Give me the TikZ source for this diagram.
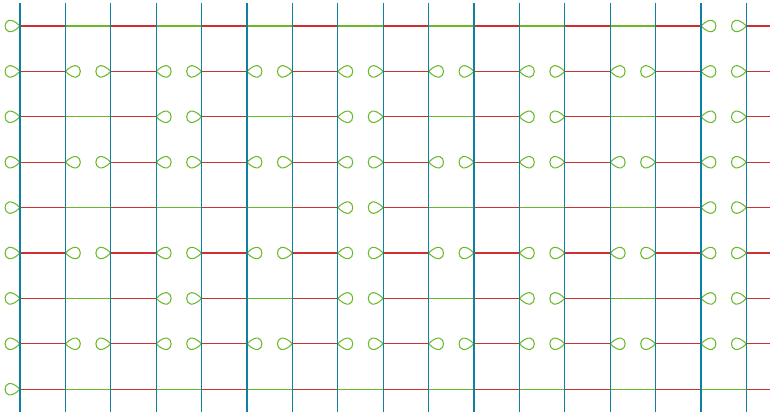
\documentclass[tikz,border=0pt]{standalone}
\definecolor{strred}{RGB}{204,48,48}
\definecolor{strgreen}{RGB}{104,184,40}
\definecolor{rodteal}{RGB}{16,128,160}
\tikzset{
  rod/.style={draw=rodteal, line width=0.8pt},
  redseg/.style={draw=strred, line width=0.65pt},
  greenseg/.style={draw=strgreen, line width=0.65pt},
  looppath/.style={draw=strgreen, line width=0.65pt},
}
\begin{document}
\begin{tikzpicture}[x=1cm,y=-1cm]
\useasboundingbox (-0.4405,-0.5727) rectangle (16.520,8.524);
% grid coordinates
\foreach \j in {0,...,8}{
  \foreach \k in {0,...,16}{
    \coordinate (g-\k-\j) at (\k,\j);
  }
  \coordinate (e-\j) at (16.6,\j);
}
\foreach \k in {0,...,16}{
  \coordinate (t-\k) at (\k,-0.51);
  \coordinate (b-\k) at (\k,8.50);
}
% horizontal strings
\foreach \j/\p in {0/16,1/2,2/4,3/2,4/8,5/2,6/4,7/2,8/64}{
  % left loop
  \path[looppath] (g-0-\j) .. controls +(135:0.62) and +(225:0.62) .. (g-0-\j);
  \foreach \k in {0,...,15}{
    \pgfmathtruncatemacro\r{mod(\k+1,\p)}
    \pgfmathtruncatemacro\c{mod(\k,2)}
    \pgfmathtruncatemacro\n{\k+1}
    \ifnum\r=0
      \path[looppath] (g-\k-\j) .. controls +(45:0.62) and +(-45:0.62) .. (g-\k-\j);
      \path[looppath] (g-\n-\j) .. controls +(135:0.62) and +(225:0.62) .. (g-\n-\j);
    \else
      \ifnum\c=0
        \path[redseg] (g-\k-\j) -- (g-\n-\j);
      \else
        \path[greenseg] (g-\k-\j) -- (g-\n-\j);
      \fi
    \fi
  }
  \path[redseg] (g-16-\j) -- (e-\j);
}
% vertical rods
\foreach \k in {0,...,16}{
  \path[rod] (t-\k) -- (b-\k);
}
\end{tikzpicture}
\end{document}
